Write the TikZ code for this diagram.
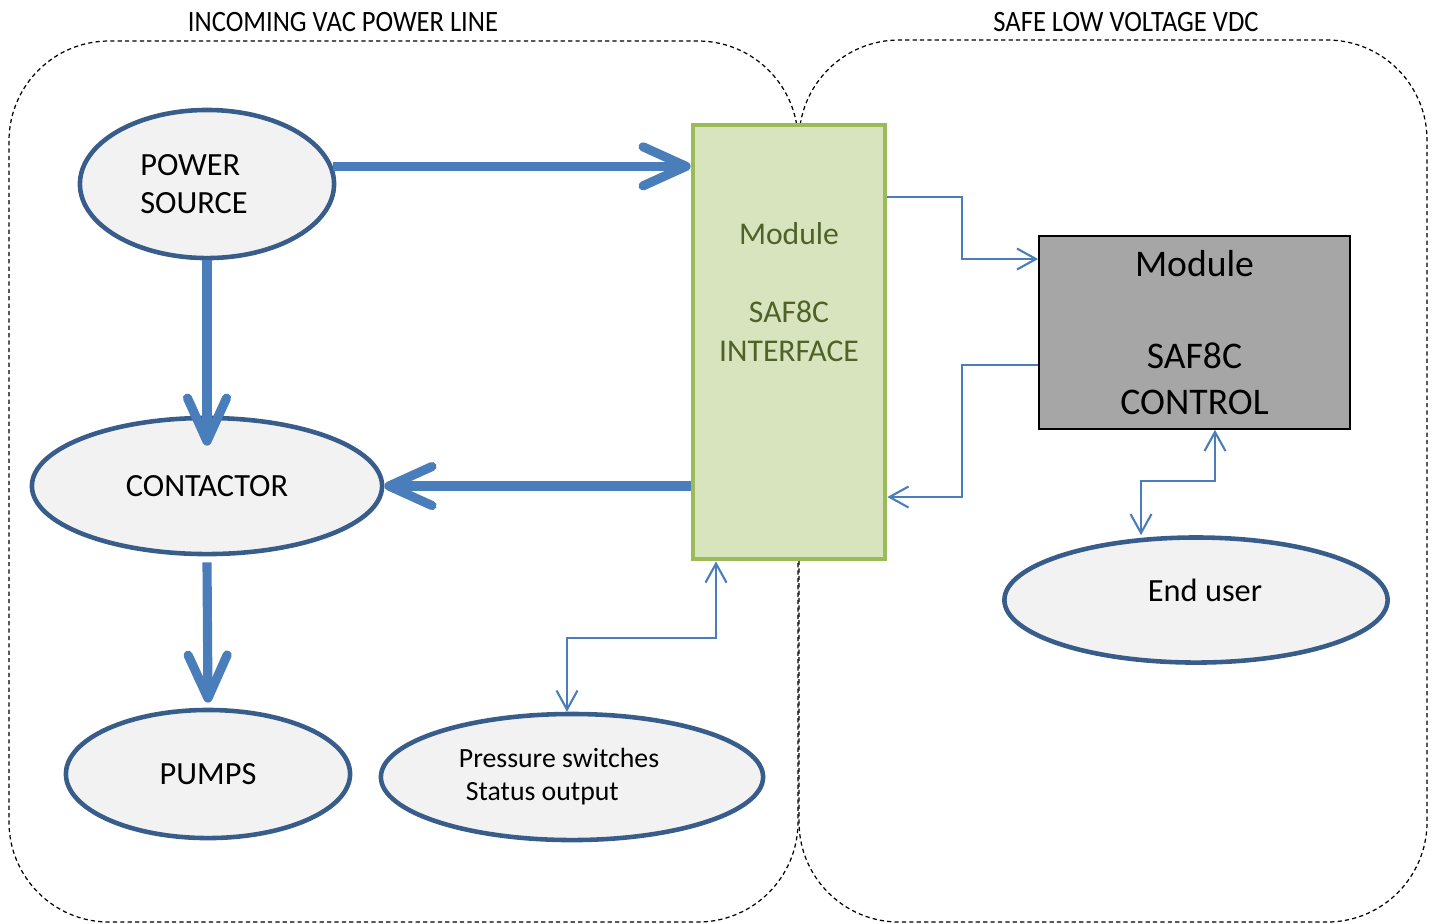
\documentclass[tikz,border=0pt]{standalone}
\usepackage{fontspec}
\setmainfont{Carlito}
\newfontfamily\narrowfont[FakeStretch=0.9]{Carlito}
\usepackage{tikz}
\usetikzlibrary{shapes.geometric,arrows.meta,positioning,calc}
\usepackage{xcolor}
\definecolor{flowblue}{HTML}{4A7EBB}
\definecolor{blobline}{HTML}{385D8A}
\definecolor{blobfill}{HTML}{F2F2F2}
\definecolor{ifacefill}{HTML}{D7E4BD}
\definecolor{ifaceline}{HTML}{9BBB59}
\definecolor{ifacetext}{HTML}{4F6228}
\definecolor{ctrlfill}{HTML}{A6A6A6}

\begin{document}
\begin{tikzpicture}[x=0.01cm,y=-0.01cm,
  >={Straight Barb[length=1.9mm,width=2.1mm]},
  blob/.style={ellipse,draw=blobline,fill=blobfill,line width=1.3pt,inner sep=0pt,
               font=\fontsize{9.2}{10.7}\selectfont},
  zone/.style={draw=black,line width=0.35pt,dash pattern=on 1.2pt off 0.9pt,rounded corners=1cm},
  zonetitle/.style={font=\narrowfont\fontsize{8.4}{10}\selectfont},
  feed/.style={draw=flowblue,line width=2.6pt,-{Straight Barb[round,length=4.3mm,width=3.9mm]}},
  sig/.style={draw=flowblue,line width=0.6pt}]
\useasboundingbox (0,0) rectangle (1434,923);

% the two supply zones
\draw[zone] (9,41) rectangle (798,922);
\draw[zone] (799,40) rectangle (1427,922);
\node[zonetitle] (vactitle) at (343,22) {INCOMING VAC POWER LINE};
\node[zonetitle] (vdctitle) at (1126,22) {SAFE LOW VOLTAGE VDC};

% mains side
\node[blob,minimum width=2.54cm,minimum height=1.48cm,
      label={[align=left,font=\fontsize{9.2}{10.7}\selectfont,xshift=-1.3mm]center:{POWER\\SOURCE}}] (ps) at (207,184) {};
\node[blob,minimum width=3.5cm,minimum height=1.36cm] (cont) at (207,486) {CONTACTOR};
\node[blob,minimum width=2.84cm,minimum height=1.28cm] (pumps) at (208,774) {PUMPS};
\node[blob,minimum width=3.82cm,minimum height=1.26cm,
      label={[align=left,font=\fontsize{7.9}{9.4}\selectfont,xshift=-1.3mm]center:{Pressure switches\\\hspace*{2pt}Status output}}]
      (press) at (572,777) {};

\node[draw=ifaceline,fill=ifacefill,line width=1.3pt,minimum width=1.92cm,minimum height=4.34cm,
      label={[text=ifacetext,align=center,font=\fontsize{9}{11.1}\selectfont,yshift=5mm]center:{Module\\[11pt]SAF8C\\INTERFACE}}]
      (iface) at (789,342) {};

% low voltage side
\node[draw=black,fill=ctrlfill,line width=0.45pt,minimum width=3.11cm,minimum height=1.93cm,
      align=center,font=\fontsize{10.7}{13}\selectfont] (ctrl) at (1194.5,332.5) {Module\\[13pt]SAF8C\\CONTROL};
\node[blob,minimum width=3.83cm,minimum height=1.25cm,
      label={[font=\fontsize{9.2}{10.7}\selectfont,xshift=0.9mm,yshift=1mm]center:End user}] (eu) at (1196,600) {};

% power flow
\draw[feed] (ps.8) -- (ps.8 -| iface.west);
\draw[feed] (ps.south) -- ($(cont.north)+(0,30)$);
\draw[feed] (cont.east -| iface.west) -- (cont.east);
\draw[feed] ($(cont.south)+(0,6)$) -- ($(pumps.north)+(0,-5)$);

% signals
\draw[sig,->] (iface.east |- 0,197) -| (962,259) -- (ctrl.west |- 0,259);
\draw[sig,->] (ctrl.west |- 0,365) -- (962,365) |- (iface.east |- 0,497);
\draw[sig,<->] (716,0 |- iface.south) |- (567,638) -- (567,0 |- press.north);
\draw[sig,<->] (1215,0 |- ctrl.south) |- (1141,481) -- (1141,0 |- eu.north);
\end{tikzpicture}
\end{document}
